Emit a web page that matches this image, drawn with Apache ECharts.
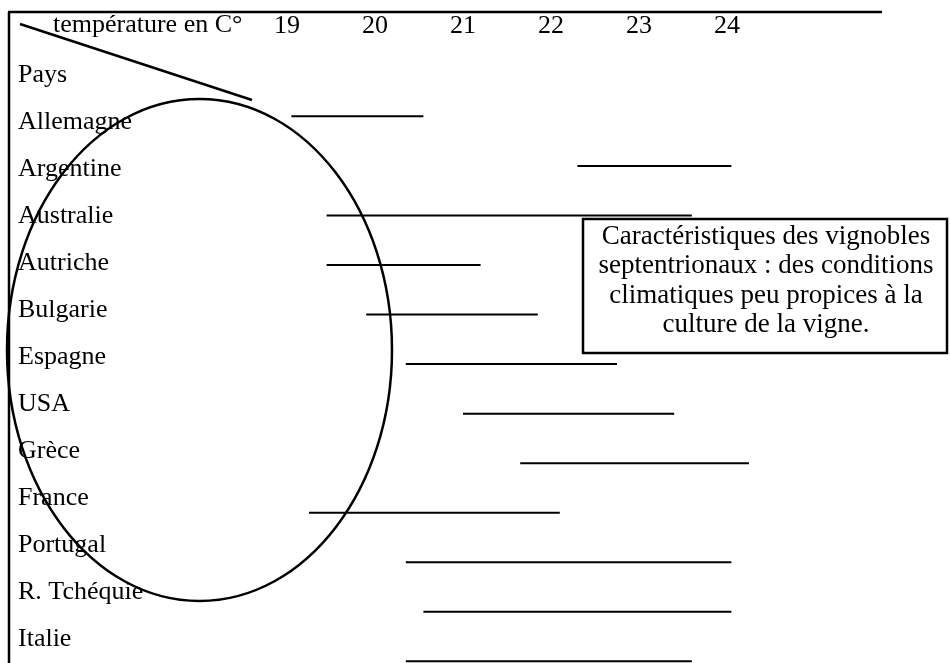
<!DOCTYPE html>
<html lang="fr">
<head>
<meta charset="UTF-8">
<title>Températures des vignobles</title>
<script src="https://cdn.jsdelivr.net/npm/echarts@6/dist/echarts.min.js"></script>
<style>
    html, body { margin: 0; padding: 0; background: #fff; }
    #chart { width: 950px; height: 663px; }
</style>
</head>
<body>
<div id="chart"></div>

<script>
    // pays et plages de température (°C)
    const rowHeader = 'Pays';
    const countries = ['Allemagne', 'Argentine', 'Australie', 'Autriche', 'Bulgarie', 'Espagne',
                       'USA', 'Grèce', 'France', 'Portugal', 'R. Tchéquie', 'Italie'];
    const tempMin = [19.05, 22.3, 19.45, 19.45, 19.9, 20.35, 21.0, 21.65, 19.25, 20.35, 20.55, 20.35];
    const tempMax = [20.55, 24.05, 23.6, 21.2, 21.85, 22.75, 23.4, 24.25, 22.1, 24.05, 24.05, 23.6];
    const tempTicks = [19, 20, 21, 22, 23, 24];
    const axisTitle = 'température en C°';
    const noteLines = ['Caractéristiques des vignobles', 'septentrionaux : des conditions',
                       'climatiques peu propices à la', 'culture de la vigne.'];

    const font = 'Liberation Serif';
    const fs = 26;
    const chart = echarts.init(document.getElementById('chart'));

    const option = {
        backgroundColor: '#fff',
        animation: false,
        textStyle: { fontFamily: font },
        grid: [
            { left: 199, width: 616, top: 52, bottom: 0 },
            { left: 199, width: 616, top: 91.6, bottom: 0 }
        ],
        xAxis: [
            {
                gridIndex: 0, type: 'value', position: 'top',
                min: 18, max: 25, interval: 1,
                axisLine: { show: false }, axisTick: { show: false }, splitLine: { show: false },
                axisLabel: {
                    margin: 13, color: '#000', fontSize: fs, fontFamily: font,
                    formatter: v => tempTicks.includes(v) ? String(v) : ''
                }
            },
            {
                gridIndex: 1, type: 'value', min: 18, max: 25, interval: 1, show: false
            }
        ],
        yAxis: [
            {
                gridIndex: 0, type: 'category', inverse: true,
                data: [rowHeader].concat(countries),
                axisLine: { show: false }, axisTick: { show: false }, splitLine: { show: false },
                axisLabel: { align: 'left', margin: 181, color: '#000', fontSize: fs, fontFamily: font }
            },
            {
                // rangées des traits, un peu plus espacées que les libellés
                gridIndex: 1, type: 'value', inverse: true, min: -0.5, max: 11.033, show: false
            }
        ],
        series: [{
            type: 'custom',
            xAxisIndex: 1,
            yAxisIndex: 1,
            z: 200,
            data: countries.map((c, i) => [tempMin[i], tempMax[i], i]),
            encode: { x: [0, 1], y: 2 },
            renderItem: (params, api) => {
                const row = api.value(2);
                const a = api.coord([api.value(0), row]);
                const b = api.coord([api.value(1), row]);
                return {
                    type: 'line',
                    shape: { x1: a[0], y1: a[1], x2: b[0], y2: b[1] },
                    style: { stroke: '#000', lineWidth: 2 }
                };
            }
        }],
        graphic: [
            // bordure du tableau
            { type: 'line', z: 100, shape: { x1: 8, y1: 12, x2: 882, y2: 12 },
              style: { stroke: '#000', lineWidth: 2.5 } },
            { type: 'line', z: 100, shape: { x1: 9, y1: 12, x2: 9, y2: 663 },
              style: { stroke: '#000', lineWidth: 2.5 } },
            // diagonale de l'en-tête
            { type: 'line', z: 100, shape: { x1: 20, y1: 24, x2: 252, y2: 100 },
              style: { stroke: '#000', lineWidth: 2.5 } },
            { type: 'text', z: 100, x: 53, y: 25.5,
              style: { text: axisTitle, font: fs + 'px "Liberation Serif"', fill: '#000',
                       verticalAlign: 'middle' } },
            // ellipse autour des pays
            { type: 'ellipse', z: 100, shape: { cx: 199.5, cy: 350, rx: 192.5, ry: 251 },
              style: { fill: 'none', stroke: '#000', lineWidth: 2.5 } },
            // encadré
            { type: 'rect', z: 100, shape: { x: 583, y: 219, width: 364, height: 134 },
              style: { fill: '#fff', stroke: '#000', lineWidth: 2.5 } },
            { type: 'text', z: 101, x: 766, y: 281,
              style: {
                  text: noteLines.join('\n'), font: '27px "Liberation Serif"', fill: '#000',
                  align: 'center', verticalAlign: 'middle', lineHeight: 29.3
              } }
        ]
    };

    chart.setOption(option);
</script>
</body>
</html>
